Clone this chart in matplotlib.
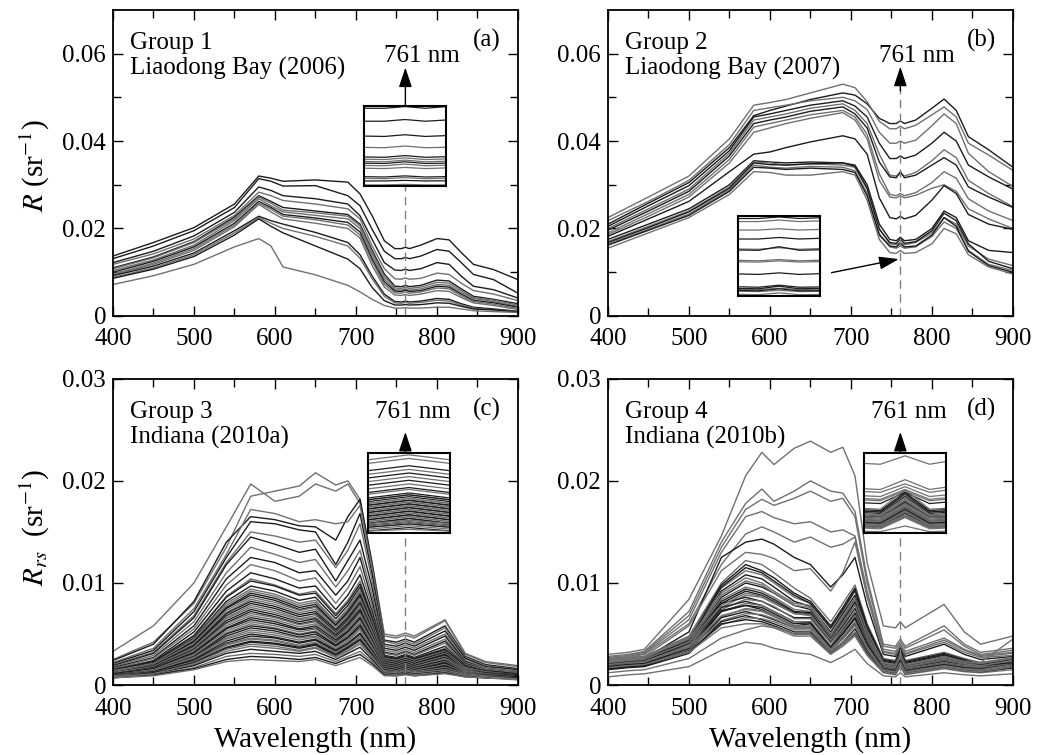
import matplotlib.pyplot as plt
import numpy as np
from matplotlib.ticker import FixedLocator, FuncFormatter

plt.rcParams['font.family'] = ['Liberation Serif', 'DejaVu Serif']
plt.rcParams['mathtext.fontset'] = 'stix'

# Shades of the lines: 'd' dark, 'g' gray
COLORS = {'d': '#1c1c1c', 'g': '#707070'}

# ---- Group 1, Liaodong Bay (2006); R in units of 1e-4 sr^-1 ----
wl_g1 = [400, 450, 500, 550, 580, 595, 610, 650, 690, 705, 720, 735, 748, 756, 761, 766, 780, 800, 815, 830, 845, 870, 900]
g1_spectra = [
    [137, 168, 202, 256, 320, 315, 308, 311, 306, 279, 229, 172, 154, 154, 157, 154, 162, 177, 174, 145, 118, 106, 83],
    [131, 160, 195, 248, 314, 308, 297, 298, 275, 252, 198, 148, 131, 131, 134, 131, 137, 152, 148, 122, 95, 83, 52],
    [122, 148, 183, 237, 295, 287, 275, 268, 256, 229, 175, 122, 105, 104, 107, 104, 108, 122, 118, 91, 68, 60, 41],
    [118, 142, 176, 230, 283, 275, 264, 256, 245, 222, 160, 108, 85, 84, 87, 84, 86, 98, 95, 75, 58, 50, 35],
    [110, 135, 170, 226, 275, 262, 248, 240, 232, 210, 150, 96, 68, 67, 70, 67, 70, 82, 80, 62, 45, 38, 28],
    [108, 133, 168, 222, 272, 258, 242, 236, 228, 206, 145, 90, 64, 63, 66, 63, 66, 77, 75, 58, 42, 36, 25],
    [104, 128, 162, 218, 268, 252, 238, 230, 222, 200, 138, 84, 60, 59, 62, 59, 62, 72, 70, 54, 40, 33, 22],
    [100, 125, 158, 212, 262, 248, 232, 224, 214, 192, 130, 78, 57, 56, 59, 56, 58, 68, 66, 50, 36, 30, 20],
    [96, 121, 154, 208, 258, 244, 228, 220, 208, 185, 124, 72, 53, 52, 55, 52, 55, 64, 62, 46, 33, 27, 17],
    [94, 118, 150, 204, 255, 238, 222, 212, 200, 178, 115, 66, 48, 47, 49, 47, 50, 58, 56, 42, 30, 24, 15],
    [92, 114, 144, 195, 228, 218, 210, 191, 168, 140, 91, 50, 33, 32, 34, 32, 34, 40, 38, 28, 20, 16, 11],
    [88, 110, 140, 190, 225, 212, 200, 182, 160, 132, 85, 45, 30, 29, 31, 29, 31, 36, 34, 25, 18, 14, 10],
    [86, 107, 136, 185, 222, 205, 190, 160, 130, 108, 65, 35, 25, 25, 26, 25, 26, 30, 29, 22, 16, 14, 9],
    [72, 92, 118, 158, 177, 160, 112, 94, 70, 55, 38, 24, 18, 18, 19, 18, 18, 20, 20, 16, 12, 10, 8],
]
g1_shades = ['d', 'd', 'd', 'g', 'd', 'g', 'g', 'd', 'g', 'g', 'd', 'g', 'd', 'g']

# ---- Group 2, Liaodong Bay (2007) ----
wl_g2 = [400, 450, 500, 550, 580, 600, 620, 650, 690, 705, 720, 735, 748, 756, 761, 766, 780, 800, 815, 830, 845, 870, 900]
g2_spectra = [
    [210, 258, 305, 385, 458, 470, 480, 495, 510, 505, 485, 452, 440, 440, 446, 440, 448, 475, 496, 470, 410, 380, 340],
    [225, 272, 320, 405, 482, 488, 495, 510, 530, 522, 490, 445, 428, 428, 434, 428, 436, 460, 478, 455, 395, 368, 333],
    [218, 262, 310, 392, 470, 476, 482, 492, 500, 492, 472, 420, 395, 395, 400, 395, 402, 435, 462, 440, 372, 330, 296],
    [205, 252, 298, 378, 455, 462, 470, 482, 492, 480, 455, 395, 360, 360, 366, 360, 368, 395, 420, 400, 345, 318, 290],
    [200, 245, 290, 372, 448, 455, 462, 475, 485, 470, 440, 370, 322, 320, 326, 320, 328, 355, 380, 362, 310, 280, 250],
    [196, 240, 285, 366, 440, 448, 455, 468, 478, 462, 430, 352, 318, 316, 330, 316, 322, 345, 362, 345, 295, 272, 248],
    [190, 234, 278, 358, 432, 440, 448, 460, 470, 455, 415, 325, 278, 275, 280, 275, 282, 305, 330, 315, 268, 240, 218],
    [186, 228, 272, 350, 420, 430, 440, 452, 465, 448, 405, 310, 272, 270, 275, 270, 276, 292, 300, 285, 245, 222, 200],
    [182, 222, 262, 330, 370, 375, 385, 398, 412, 405, 370, 270, 225, 222, 228, 222, 230, 265, 298, 280, 232, 210, 198],
    [175, 210, 245, 300, 355, 352, 350, 352, 350, 345, 300, 210, 175, 172, 180, 172, 175, 200, 240, 225, 172, 150, 145],
    [170, 205, 240, 295, 352, 350, 345, 348, 345, 340, 290, 200, 165, 163, 168, 163, 168, 190, 225, 210, 160, 130, 115],
    [168, 202, 238, 292, 350, 346, 345, 348, 350, 342, 292, 198, 168, 166, 176, 166, 170, 195, 235, 218, 165, 125, 108],
    [165, 198, 233, 288, 345, 340, 338, 342, 340, 332, 280, 188, 158, 155, 160, 155, 158, 182, 215, 200, 150, 118, 104],
    [162, 196, 230, 285, 340, 338, 335, 338, 335, 328, 275, 185, 160, 158, 166, 158, 160, 185, 225, 205, 148, 115, 100],
    [155, 190, 225, 278, 330, 328, 322, 322, 330, 322, 265, 175, 145, 143, 150, 143, 145, 165, 200, 188, 140, 112, 96],
]
g2_shades = ['d', 'g', 'g', 'd', 'g', 'd', 'g', 'g', 'd', 'd', 'g', 'd', 'g', 'd', 'g']

# ---- Group 3, Indiana (2010a); Rrs in units of 1e-4 sr^-1 ----
wl_g3 = [400, 450, 500, 540, 570, 600, 630, 650, 675, 690, 705, 720, 735, 750, 761, 772, 810, 835, 860, 900]
g3_spectra = [
    [33, 58, 100, 155, 197, 180, 185, 197, 190, 197, 178, 118, 48, 46, 49, 46, 63, 30, 22, 18],
    [25, 42, 80, 135, 185, 190, 195, 208, 196, 200, 182, 120, 50, 48, 51, 48, 64, 31, 23, 19],
    [24, 40, 82, 140, 165, 162, 156, 155, 142, 165, 182, 118, 44, 42, 45, 42, 58, 28, 20, 16],
    [22, 36, 75, 128, 172, 168, 160, 162, 158, 160, 176, 115, 43, 40, 43, 40, 56, 27, 19, 15],
    [21, 34, 72, 125, 160, 158, 152, 150, 118, 140, 168, 108, 40, 38, 41, 38, 53, 26, 18, 15],
    [20, 32, 68, 120, 150, 146, 140, 142, 115, 132, 158, 102, 38, 36, 39, 36, 50, 24, 17, 14],
    [19, 31, 66, 118, 145, 138, 130, 133, 102, 122, 142, 95, 36, 34, 37, 34, 48, 23, 16, 13],
    [18, 29, 62, 110, 135, 128, 120, 123, 96, 112, 132, 88, 34, 32, 35, 32, 45, 22, 16, 13],
    [17, 27, 58, 104, 125, 120, 110, 112, 88, 102, 125, 82, 32, 30, 33, 30, 43, 21, 15, 12],
    [16, 26, 55, 98, 118, 112, 102, 105, 80, 95, 116, 77, 31, 29, 32, 29, 41, 20, 15, 12],
    [15, 24, 52, 92, 110, 104, 95, 97, 74, 88, 108, 72, 29, 27, 30, 27, 38, 19, 14, 11],
    [15, 23, 49, 87, 104, 98, 89, 92, 70, 83, 102, 68, 28, 26, 29, 26, 36, 18, 14, 11],
    [14, 22, 46, 82, 97, 92, 83, 86, 65, 78, 96, 64, 27, 25, 28, 25, 34, 17, 13, 10],
    [14, 21, 44, 78, 92, 87, 78, 81, 61, 74, 91, 61, 26, 24, 27, 24, 33, 17, 13, 10],
    [13, 20, 42, 75, 88, 83, 74, 77, 58, 70, 87, 58, 25, 23, 26, 23, 32, 16, 12, 10],
    [13, 19, 40, 71, 84, 79, 71, 74, 55, 67, 83, 56, 24, 22, 25, 22, 30, 16, 12, 9],
    [12, 18, 38, 68, 80, 75, 67, 70, 52, 64, 79, 53, 23, 21, 24, 21, 29, 15, 12, 9],
    [12, 18, 36, 65, 76, 71, 64, 66, 50, 61, 76, 51, 22, 20, 23, 20, 28, 15, 11, 9],
    [11, 17, 34, 61, 72, 67, 60, 63, 47, 58, 72, 48, 21, 19, 22, 19, 26, 14, 11, 9],
    [11, 16, 33, 58, 68, 64, 57, 60, 45, 55, 68, 46, 20, 18, 21, 18, 25, 14, 11, 8],
    [10, 15, 31, 55, 64, 60, 54, 56, 42, 52, 65, 43, 19, 17, 20, 17, 24, 13, 10, 8],
    [10, 15, 29, 51, 60, 56, 50, 53, 40, 49, 61, 41, 18, 16, 19, 16, 22, 13, 10, 8],
    [10, 14, 27, 48, 56, 53, 47, 50, 38, 46, 57, 38, 17, 15, 18, 15, 21, 12, 10, 8],
    [9, 13, 26, 45, 52, 49, 44, 47, 35, 43, 54, 36, 16, 14, 17, 14, 20, 12, 9, 7],
    [9, 13, 24, 41, 48, 46, 41, 44, 33, 40, 50, 33, 15, 13, 16, 13, 18, 11, 9, 7],
    [9, 12, 23, 39, 45, 43, 38, 41, 31, 38, 47, 31, 14, 13, 15, 13, 17, 11, 9, 7],
    [8, 12, 22, 36, 42, 40, 36, 39, 29, 36, 44, 29, 13, 12, 14, 12, 16, 10, 8, 7],
    [8, 11, 20, 33, 38, 36, 33, 36, 27, 33, 40, 27, 12, 11, 13, 11, 15, 10, 8, 6],
    [8, 11, 19, 31, 35, 33, 31, 33, 25, 31, 37, 25, 12, 11, 13, 11, 14, 9, 8, 6],
    [8, 10, 17, 28, 31, 30, 28, 30, 23, 28, 33, 23, 11, 10, 12, 10, 13, 9, 7, 6],
    [7, 10, 16, 25, 28, 27, 25, 27, 21, 26, 30, 21, 10, 9, 11, 9, 12, 8, 7, 6],
    [7, 9, 15, 23, 25, 24, 23, 25, 19, 23, 27, 19, 9, 9, 10, 9, 11, 8, 7, 5],
    [15, 23, 48, 86, 102, 97, 88, 90, 68, 81, 99, 66, 28, 26, 29, 26, 35, 18, 14, 11],
    [14, 21, 45, 80, 94, 89, 80, 83, 62, 75, 93, 62, 26, 24, 27, 24, 33, 17, 13, 10],
    [13, 20, 43, 76, 90, 85, 76, 79, 59, 72, 89, 59, 25, 23, 26, 23, 32, 16, 12, 10],
    [13, 20, 41, 73, 86, 81, 73, 76, 57, 69, 85, 57, 24, 22, 25, 22, 31, 16, 12, 9],
    [12, 19, 39, 70, 82, 77, 69, 72, 54, 66, 81, 54, 23, 21, 24, 21, 30, 15, 12, 9],
    [12, 18, 37, 66, 78, 73, 65, 68, 51, 62, 78, 52, 22, 20, 23, 20, 28, 15, 11, 9],
    [11, 17, 35, 63, 74, 69, 62, 65, 49, 60, 74, 49, 21, 19, 22, 19, 27, 14, 11, 9],
    [11, 16, 34, 60, 70, 66, 59, 62, 46, 56, 70, 47, 20, 18, 21, 18, 26, 14, 11, 8],
    [11, 16, 32, 56, 66, 62, 55, 58, 44, 53, 66, 44, 19, 17, 20, 17, 24, 13, 10, 8],
    [10, 15, 30, 53, 62, 58, 52, 55, 41, 50, 63, 42, 18, 16, 19, 16, 23, 13, 10, 8],
    [10, 14, 28, 50, 58, 55, 49, 52, 39, 47, 59, 39, 17, 15, 18, 15, 22, 12, 10, 8],
    [9, 14, 27, 46, 54, 51, 46, 48, 36, 44, 55, 37, 16, 14, 17, 14, 20, 12, 9, 7],
    [9, 13, 25, 43, 50, 47, 42, 45, 34, 41, 51, 34, 15, 13, 16, 13, 19, 11, 9, 7],
    [9, 12, 23, 40, 46, 44, 39, 42, 32, 39, 48, 32, 14, 13, 15, 13, 17, 11, 9, 7],
    [8, 12, 22, 37, 43, 41, 37, 40, 30, 37, 45, 30, 13, 12, 14, 12, 16, 10, 8, 7],
    [8, 11, 21, 35, 40, 38, 34, 37, 28, 34, 42, 28, 13, 12, 14, 12, 15, 10, 8, 6],
]
g3_shades = ['g', 'g', 'd', 'g', 'd', 'g', 'd', 'g', 'd', 'g', 'd', 'g', 'd', 'g', 'd', 'g',
             'd', 'g', 'd', 'g', 'd', 'g', 'd', 'g', 'd', 'g', 'd', 'g', 'd', 'g', 'd', 'g',
             'd', 'g', 'd', 'g', 'd', 'g', 'd', 'g', 'd', 'g', 'd', 'g', 'd', 'g', 'd', 'g']

# ---- Group 4, Indiana (2010b) ----
wl_g4 = [400, 425, 445, 500, 540, 570, 590, 605, 630, 650, 675, 690, 705, 720, 740, 755, 761, 767, 815, 840, 860, 900]
g4_spectra = [
    [30, 32, 35, 84, 146, 205, 228, 216, 232, 239, 228, 233, 205, 120, 58, 56, 62, 56, 79, 52, 40, 48],
    [28, 30, 33, 72, 140, 178, 192, 180, 190, 200, 190, 188, 170, 105, 40, 38, 45, 38, 58, 40, 32, 36],
    [27, 29, 32, 68, 135, 172, 182, 176, 183, 190, 180, 183, 165, 100, 38, 36, 42, 36, 54, 38, 30, 34],
    [26, 28, 31, 64, 130, 165, 170, 164, 158, 160, 150, 152, 146, 92, 35, 33, 40, 33, 46, 35, 29, 32],
    [25, 27, 30, 60, 118, 148, 155, 150, 140, 145, 135, 138, 145, 88, 33, 31, 38, 31, 44, 34, 28, 31],
    [22, 24, 26, 52, 125, 140, 143, 138, 125, 118, 96, 108, 125, 78, 30, 28, 36, 28, 40, 30, 25, 28],
    [24, 26, 28, 58, 112, 130, 128, 124, 112, 114, 92, 110, 140, 86, 32, 30, 37, 30, 42, 32, 27, 29],
    [24, 26, 28, 48, 100, 122, 118, 110, 95, 85, 62, 80, 98, 60, 26, 24, 38, 24, 32, 26, 22, 27],
    [22, 24, 26, 45, 98, 118, 112, 105, 90, 82, 58, 76, 95, 58, 25, 23, 36, 23, 31, 25, 21, 26],
    [23, 25, 27, 46, 95, 112, 108, 100, 86, 80, 55, 72, 92, 56, 24, 22, 34, 22, 30, 24, 21, 26],
    [20, 22, 24, 42, 92, 108, 104, 96, 82, 77, 52, 70, 88, 54, 23, 21, 33, 21, 29, 23, 20, 24],
    [25, 27, 28, 47, 90, 105, 100, 92, 80, 78, 50, 68, 85, 53, 22, 20, 32, 20, 28, 24, 22, 45],
    [21, 23, 25, 42, 86, 100, 96, 90, 78, 74, 48, 66, 84, 51, 21, 19, 30, 19, 27, 22, 19, 22],
    [22, 24, 26, 43, 84, 96, 92, 86, 74, 72, 46, 64, 82, 50, 21, 19, 30, 19, 26, 22, 20, 25],
    [20, 22, 23, 40, 80, 92, 88, 82, 71, 70, 44, 61, 80, 48, 20, 18, 28, 18, 25, 21, 18, 22],
    [23, 25, 26, 42, 76, 88, 86, 80, 70, 68, 44, 60, 78, 47, 19, 17, 27, 17, 24, 20, 19, 24],
    [19, 21, 22, 38, 80, 86, 82, 76, 66, 66, 42, 58, 75, 45, 18, 16, 26, 16, 23, 19, 17, 21],
    [22, 24, 25, 40, 74, 84, 82, 77, 65, 65, 41, 56, 72, 44, 18, 16, 26, 16, 22, 19, 18, 23],
    [18, 20, 21, 36, 76, 82, 78, 72, 62, 62, 38, 54, 70, 42, 17, 15, 25, 15, 21, 18, 16, 20],
    [21, 23, 24, 38, 72, 80, 78, 72, 62, 62, 38, 53, 68, 41, 17, 15, 25, 15, 21, 18, 17, 22],
    [17, 19, 20, 34, 72, 78, 74, 68, 58, 60, 36, 50, 65, 39, 16, 14, 23, 14, 20, 17, 15, 19],
    [20, 22, 23, 36, 67, 75, 73, 68, 58, 58, 35, 48, 62, 38, 16, 14, 23, 14, 20, 17, 16, 21],
    [16, 18, 19, 33, 66, 72, 68, 64, 56, 56, 34, 46, 60, 36, 15, 13, 22, 13, 19, 16, 14, 18],
    [19, 21, 22, 35, 63, 70, 69, 65, 56, 56, 34, 45, 58, 35, 15, 13, 22, 13, 19, 16, 15, 20],
    [15, 17, 18, 31, 62, 68, 64, 60, 52, 52, 32, 42, 55, 33, 14, 12, 21, 12, 18, 15, 13, 17],
    [18, 20, 21, 33, 59, 66, 65, 62, 54, 54, 33, 42, 52, 32, 14, 12, 20, 12, 18, 15, 14, 19],
    [12, 14, 15, 26, 46, 54, 58, 56, 48, 48, 30, 38, 48, 29, 12, 10, 18, 10, 16, 13, 12, 15],
    [8, 10, 11, 18, 34, 42, 40, 36, 32, 30, 22, 28, 35, 21, 9, 8, 12, 8, 12, 10, 9, 11],
    [21, 23, 25, 44, 96, 115, 110, 102, 88, 80, 56, 74, 93, 57, 24, 22, 35, 22, 30, 24, 20, 25],
    [24, 26, 27, 45, 88, 102, 98, 90, 78, 76, 49, 67, 84, 52, 22, 20, 31, 20, 27, 23, 21, 26],
    [20, 22, 24, 41, 82, 94, 90, 84, 72, 71, 45, 63, 81, 49, 20, 18, 29, 18, 25, 21, 19, 22],
    [22, 24, 25, 42, 78, 90, 87, 81, 70, 69, 44, 61, 79, 48, 20, 18, 28, 18, 25, 21, 19, 24],
    [18, 20, 21, 36, 73, 78, 76, 70, 60, 61, 37, 51, 66, 40, 16, 14, 24, 14, 20, 17, 16, 20],
    [20, 22, 23, 37, 68, 74, 72, 67, 57, 57, 35, 47, 61, 37, 15, 13, 22, 13, 19, 16, 15, 20],
    [16, 18, 19, 32, 60, 64, 62, 58, 50, 50, 31, 40, 50, 31, 13, 11, 19, 11, 17, 14, 13, 17],
    [17, 19, 20, 32, 56, 60, 60, 57, 50, 50, 31, 40, 49, 30, 13, 11, 19, 11, 17, 14, 13, 18],
]
g4_shades = ['g', 'g', 'g', 'g', 'g', 'd', 'g', 'g', 'd', 'g', 'd', 'g', 'd', 'g',
             'd', 'g', 'd', 'g', 'd', 'g', 'd', 'g', 'd', 'g', 'd', 'g', 'g', 'g',
             'd', 'g', 'd', 'g', 'd', 'g', 'd', 'g']

group_titles = ['Group 1\nLiaodong Bay (2006)', 'Group 2\nLiaodong Bay (2007)',
                'Group 3\nIndiana (2010a)', 'Group 4\nIndiana (2010b)']
panel_tags = ['(a)', '(b)', '(c)', '(d)']
x_ticks = [400, 500, 600, 700, 800, 900]
BAND = 761
FS = 18


def plot_lines(ax, wl, spectra, shades, lw=1.0):
    for row, shade in zip(spectra, shades):
        ax.plot(wl, np.array(row) * 1e-4, color=COLORS[shade], lw=lw,
                solid_joinstyle='round')


def style_axes(ax, ymax, major, minor):
    ax.set_xlim(400, 900)
    ax.set_ylim(0, ymax)
    ax.xaxis.set_major_locator(FixedLocator(x_ticks))
    ax.xaxis.set_minor_locator(FixedLocator(np.arange(450, 900, 100)))
    ax.yaxis.set_major_locator(FixedLocator(major))
    ax.yaxis.set_minor_locator(FixedLocator(minor))
    ax.yaxis.set_major_formatter(FuncFormatter(lambda v, p: '0' if v == 0 else '%.2f' % v))
    ax.tick_params(which='both', direction='in', top=True, right=True, labelsize=FS, width=1.0)
    ax.tick_params(axis='x', pad=9)
    ax.tick_params(axis='y', pad=5)
    ax.tick_params(which='major', length=7)
    ax.tick_params(which='minor', length=6)
    for s in ax.spines.values():
        s.set_linewidth(1.3)


def add_inset(rect, wl, spectra, shades, ylim):
    ins = fig.add_axes(rect, zorder=5)
    plot_lines(ins, wl, spectra, shades, lw=0.9)
    ins.set_xlim(751, 771)
    ins.set_ylim(ylim[0] * 1e-4, ylim[1] * 1e-4)
    ins.set_xticks([])
    ins.set_yticks([])
    for s in ins.spines.values():
        s.set_linewidth(1.5)
    return ins


def up_arrow(ax, y0, y1):
    ax.annotate('', xy=(BAND, y1), xytext=(BAND, y0),
                arrowprops=dict(arrowstyle='-|>,head_length=0.6,head_width=0.2',
                                color='black', lw=1.0, shrinkA=0, shrinkB=0,
                                mutation_scale=20))


fig = plt.figure(figsize=(10.5, 7.55), dpi=100)
w, h = 0.3857, 0.4055
ax_a = fig.add_axes([0.1076, 0.5815, w, h])
ax_b = fig.add_axes([0.5790, 0.5815, w, h])
ax_c = fig.add_axes([0.1076, 0.0927, w, h])
ax_d = fig.add_axes([0.5790, 0.0927, w, h])
axes = [ax_a, ax_b, ax_c, ax_d]

plot_lines(ax_a, wl_g1, g1_spectra, g1_shades)
plot_lines(ax_b, wl_g2, g2_spectra, g2_shades)
plot_lines(ax_c, wl_g3, g3_spectra, g3_shades)
plot_lines(ax_d, wl_g4, g4_spectra, g4_shades)

for ax in (ax_a, ax_b):
    style_axes(ax, 0.07, [0, 0.02, 0.04, 0.06], [0.01, 0.03, 0.05])
for ax in (ax_c, ax_d):
    style_axes(ax, 0.03, [0, 0.01, 0.02, 0.03], [])

# Text in each panel
for ax, title, tag in zip(axes, group_titles, panel_tags):
    ax.text(0.042, 0.85, title, transform=ax.transAxes, fontsize=FS,
            va='center', ha='left', linespacing=1.15)
    ax.text(0.923, 0.90, tag, transform=ax.transAxes, fontsize=FS, va='center', ha='center')

ax_a.text(0.762, 0.85, '761 nm', transform=ax_a.transAxes, fontsize=FS, ha='center', va='center')
ax_b.text(0.762, 0.85, '761 nm', transform=ax_b.transAxes, fontsize=FS, ha='center', va='center')
ax_c.text(0.741, 0.893, '761 nm', transform=ax_c.transAxes, fontsize=FS, ha='center', va='center')
ax_d.text(0.744, 0.893, '761 nm', transform=ax_d.transAxes, fontsize=FS, ha='center', va='center')

# Dashed markers at 761 nm
dash = dict(color='#808080', lw=1.0, ls=(0, (6, 4)))
ax_a.plot([BAND, BAND], [0, 0.0298], **dash)
ax_b.plot([BAND, BAND], [0, 0.0520], **dash)
ax_c.plot([BAND, BAND], [0, 0.0149], **dash)
ax_d.plot([BAND, BAND], [0, 0.0149], **dash)

up_arrow(ax_a, 0.0481, 0.0568)
up_arrow(ax_b, 0.0515, 0.0570)
up_arrow(ax_c, 0.0227, 0.0248)
up_arrow(ax_d, 0.0227, 0.0248)

# arrow from the inset in (b) to the bottom curves at 761 nm
ax_b.annotate('', xy=(759, 0.0130), xytext=(676, 0.0099),
              arrowprops=dict(arrowstyle='-|>,head_length=0.6,head_width=0.2',
                              color='black', lw=1.0, shrinkA=0, shrinkB=0,
                              mutation_scale=20))

# Insets around 761 nm
add_inset([0.3467, 0.7536, 0.078, 0.106], wl_g1, g1_spectra, g1_shades, (16, 158))
add_inset([0.7029, 0.6080, 0.078, 0.106], wl_g2, g2_spectra, g2_shades, (138, 450))
add_inset([0.3505, 0.2940, 0.078, 0.106], wl_g3, g3_spectra, g3_shades, (8, 52))
add_inset([0.8229, 0.2940, 0.078, 0.106], wl_g4, g4_spectra, g4_shades, (7, 64))

# Axis labels
fig.text(0.033, 0.781, '$R$ (sr$^{-1}$)', rotation=90, fontsize=21, ha='center', va='center')
fig.text(0.033, 0.302, '$R_{rs}$  (sr$^{-1}$)', rotation=90, fontsize=21, ha='center', va='center')
ax_c.set_xlabel('Wavelength (nm)', fontsize=21, labelpad=5)
ax_d.set_xlabel('Wavelength (nm)', fontsize=21, labelpad=5)

fig.savefig('out.png', dpi=100)
